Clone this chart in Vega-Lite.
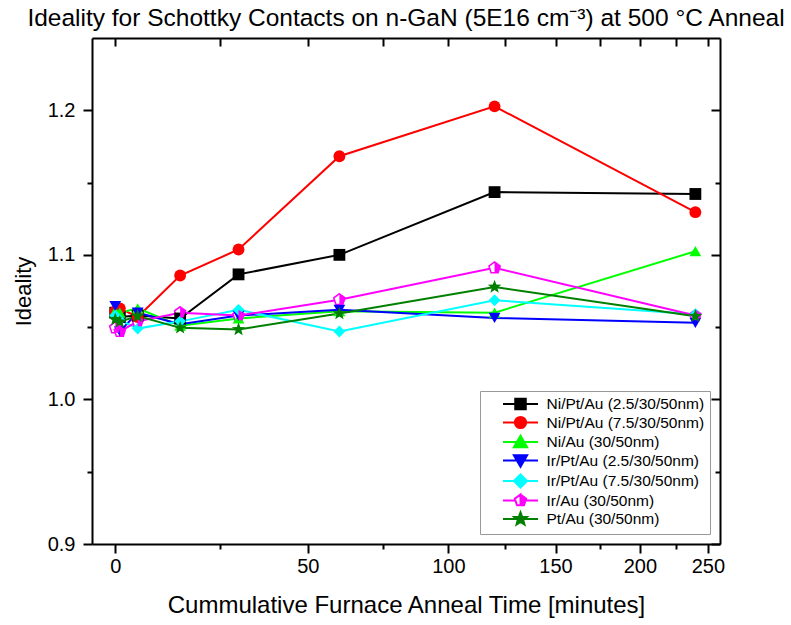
{
  "$schema": "https://vega.github.io/schema/vega-lite/v6.json",
  "width": 628,
  "height": 506,
  "autosize": {"type": "none"},
  "padding": {"left": 92, "top": 38, "right": 71, "bottom": 81},
  "background": "white",
  "config": {
    "font": "Liberation Sans",
    "view": {"stroke": null},
    "axis": {
      "grid": false,
      "domainColor": "black",
      "tickColor": "black",
      "labelColor": "black",
      "titleColor": "black",
      "domainWidth": 2,
      "tickWidth": 2,
      "labelFont": "Liberation Sans",
      "titleFont": "Liberation Sans",
      "titleFontWeight": "normal"
    },
    "legend": {
      "orient": "bottom-right",
      "offset": 10,
      "padding": 5,
      "strokeColor": "#999999",
      "fillColor": "white",
      "symbolSize": 196,
      "symbolStrokeWidth": 2,
      "symbolOffset": 27.5,
      "labelOffset": 18,
      "labelFontSize": 15.5,
      "labelFont": "Liberation Sans",
      "labelColor": "black",
      "labelLimit": 300,
      "rowPadding": -1.5
    }
  },
  "title": {
    "text": "Ideality for Schottky Contacts on n-GaN (5E16 cm⁻³) at 500 °C Anneal",
    "fontSize": 24.5,
    "fontWeight": "normal",
    "font": "Liberation Sans",
    "color": "black",
    "baseline": "alphabetic",
    "offset": 14,
    "dy": 27,
    "anchor": "middle",
    "frame": "group"
  },
  "data": {
    "values": [
      {"series": "Ni/Pt/Au (2.5/30/50nm)", "time": 0, "ideality": 1.060},
      {"series": "Ni/Pt/Au (2.5/30/50nm)", "time": 1, "ideality": 1.057},
      {"series": "Ni/Pt/Au (2.5/30/50nm)", "time": 5, "ideality": 1.058},
      {"series": "Ni/Pt/Au (2.5/30/50nm)", "time": 15, "ideality": 1.056},
      {"series": "Ni/Pt/Au (2.5/30/50nm)", "time": 30, "ideality": 1.0865},
      {"series": "Ni/Pt/Au (2.5/30/50nm)", "time": 60, "ideality": 1.100},
      {"series": "Ni/Pt/Au (2.5/30/50nm)", "time": 120, "ideality": 1.1434},
      {"series": "Ni/Pt/Au (2.5/30/50nm)", "time": 240, "ideality": 1.1421},
      {"series": "Ni/Pt/Au (7.5/30/50nm)", "time": 0, "ideality": 1.061},
      {"series": "Ni/Pt/Au (7.5/30/50nm)", "time": 1, "ideality": 1.063},
      {"series": "Ni/Pt/Au (7.5/30/50nm)", "time": 5, "ideality": 1.057},
      {"series": "Ni/Pt/Au (7.5/30/50nm)", "time": 15, "ideality": 1.0857},
      {"series": "Ni/Pt/Au (7.5/30/50nm)", "time": 30, "ideality": 1.1037},
      {"series": "Ni/Pt/Au (7.5/30/50nm)", "time": 60, "ideality": 1.1682},
      {"series": "Ni/Pt/Au (7.5/30/50nm)", "time": 120, "ideality": 1.2027},
      {"series": "Ni/Pt/Au (7.5/30/50nm)", "time": 240, "ideality": 1.1295},
      {"series": "Ni/Au (30/50nm)", "time": 0, "ideality": 1.061},
      {"series": "Ni/Au (30/50nm)", "time": 1, "ideality": 1.060},
      {"series": "Ni/Au (30/50nm)", "time": 5, "ideality": 1.063},
      {"series": "Ni/Au (30/50nm)", "time": 15, "ideality": 1.051},
      {"series": "Ni/Au (30/50nm)", "time": 30, "ideality": 1.056},
      {"series": "Ni/Au (30/50nm)", "time": 60, "ideality": 1.061},
      {"series": "Ni/Au (30/50nm)", "time": 120, "ideality": 1.060},
      {"series": "Ni/Au (30/50nm)", "time": 240, "ideality": 1.1025},
      {"series": "Ir/Pt/Au (2.5/30/50nm)", "time": 0, "ideality": 1.0645},
      {"series": "Ir/Pt/Au (2.5/30/50nm)", "time": 1, "ideality": 1.047},
      {"series": "Ir/Pt/Au (2.5/30/50nm)", "time": 5, "ideality": 1.060},
      {"series": "Ir/Pt/Au (2.5/30/50nm)", "time": 15, "ideality": 1.052},
      {"series": "Ir/Pt/Au (2.5/30/50nm)", "time": 30, "ideality": 1.058},
      {"series": "Ir/Pt/Au (2.5/30/50nm)", "time": 60, "ideality": 1.062},
      {"series": "Ir/Pt/Au (2.5/30/50nm)", "time": 120, "ideality": 1.0564},
      {"series": "Ir/Pt/Au (2.5/30/50nm)", "time": 240, "ideality": 1.053},
      {"series": "Ir/Pt/Au (7.5/30/50nm)", "time": 0, "ideality": 1.058},
      {"series": "Ir/Pt/Au (7.5/30/50nm)", "time": 1, "ideality": 1.055},
      {"series": "Ir/Pt/Au (7.5/30/50nm)", "time": 5, "ideality": 1.049},
      {"series": "Ir/Pt/Au (7.5/30/50nm)", "time": 15, "ideality": 1.054},
      {"series": "Ir/Pt/Au (7.5/30/50nm)", "time": 30, "ideality": 1.062},
      {"series": "Ir/Pt/Au (7.5/30/50nm)", "time": 60, "ideality": 1.047},
      {"series": "Ir/Pt/Au (7.5/30/50nm)", "time": 120, "ideality": 1.0686},
      {"series": "Ir/Pt/Au (7.5/30/50nm)", "time": 240, "ideality": 1.059},
      {"series": "Ir/Au (30/50nm)", "time": 0, "ideality": 1.0495},
      {"series": "Ir/Au (30/50nm)", "time": 1, "ideality": 1.047},
      {"series": "Ir/Au (30/50nm)", "time": 5, "ideality": 1.054},
      {"series": "Ir/Au (30/50nm)", "time": 15, "ideality": 1.060},
      {"series": "Ir/Au (30/50nm)", "time": 30, "ideality": 1.058},
      {"series": "Ir/Au (30/50nm)", "time": 60, "ideality": 1.069},
      {"series": "Ir/Au (30/50nm)", "time": 120, "ideality": 1.091},
      {"series": "Ir/Au (30/50nm)", "time": 240, "ideality": 1.058},
      {"series": "Pt/Au (30/50nm)", "time": 0, "ideality": 1.0553},
      {"series": "Pt/Au (30/50nm)", "time": 1, "ideality": 1.0537},
      {"series": "Pt/Au (30/50nm)", "time": 5, "ideality": 1.0576},
      {"series": "Pt/Au (30/50nm)", "time": 15, "ideality": 1.0495},
      {"series": "Pt/Au (30/50nm)", "time": 30, "ideality": 1.0484},
      {"series": "Pt/Au (30/50nm)", "time": 60, "ideality": 1.0594},
      {"series": "Pt/Au (30/50nm)", "time": 120, "ideality": 1.0778},
      {"series": "Pt/Au (30/50nm)", "time": 240, "ideality": 1.0576}
    ]
  },
  "transform": [{"calculate": "datum.time + 270", "as": "t_shift"}],
  "resolve": {"axis": {"x": "independent", "y": "independent"}},
  "layer": [
    {
      "mark": {"type": "line", "strokeWidth": 2},
      "encoding": {
        "x": {
          "field": "t_shift", "type": "quantitative",
          "scale": {"type": "pow", "exponent": -1, "domain": [265, 530], "nice": false, "zero": false},
          "axis": {
            "orient": "bottom",
            "values": [270, 320, 370, 420, 470, 520],
            "labelExpr": "datum.value - 270",
            "tickSize": 9,
            "labelFontSize": 20,
            "labelPadding": 3,
            "title": "Cummulative Furnace Anneal Time [minutes]",
            "titleFontSize": 24,
            "titlePadding": 17
          }
        },
        "y": {
          "field": "ideality", "type": "quantitative",
          "scale": {"domain": [0.9, 1.25], "nice": false, "zero": false},
          "axis": {
            "orient": "left",
            "values": [0.9, 1.0, 1.1, 1.2],
            "format": ".1f",
            "tickSize": 9,
            "labelFontSize": 20,
            "labelPadding": 8,
            "title": "Ideality",
            "titleFontSize": 22,
            "titlePadding": 12
          }
        },
        "color": {
          "field": "series", "type": "nominal",
          "scale": {
            "domain": ["Ni/Pt/Au (2.5/30/50nm)", "Ni/Pt/Au (7.5/30/50nm)", "Ni/Au (30/50nm)", "Ir/Pt/Au (2.5/30/50nm)", "Ir/Pt/Au (7.5/30/50nm)", "Ir/Au (30/50nm)", "Pt/Au (30/50nm)"],
            "range": ["#000000", "#FF0000", "#00FF00", "#0000FF", "#00FFFF", "#FF00FF", "#008000"]
          },
          "legend": {
            "title": null,
            "encode": {
              "symbols": {
                "update": {
                  "shape": {"signal": "datum.value === 'Ni/Pt/Au (2.5/30/50nm)' ? 'M-2.5,0H2.5M-0.75,-0.75H0.75V0.75H-0.75Z' : datum.value === 'Ni/Pt/Au (7.5/30/50nm)' ? 'M-2.5,0H2.5M-0.8,0A0.8,0.8,0,1,1,0.8,0A0.8,0.8,0,1,1,-0.8,0Z' : datum.value === 'Ni/Au (30/50nm)' ? 'M-2.5,0H2.5M0,-0.9L0.95,0.75H-0.95Z' : datum.value === 'Ir/Pt/Au (2.5/30/50nm)' ? 'M-2.5,0H2.5M0,0.9L0.95,-0.75H-0.95Z' : datum.value === 'Ir/Pt/Au (7.5/30/50nm)' ? 'M-2.5,0H2.5M0,-0.95L0.95,0L0,0.95L-0.95,0Z' : datum.value === 'Ir/Au (30/50nm)' ? 'M-2.5,0H-0.72M0.72,0H2.5M0,-0.85L0.808,-0.263L0.5,0.688L-0.5,0.688L-0.808,-0.263ZM0,-0.85L-0.808,-0.263L-0.5,0.688L0,0.688Z' : 'M-2.5,0H2.5M0,-0.95L0.235,-0.323L0.903,-0.294L0.379,0.124L0.559,0.769L0,0.399L-0.559,0.769L-0.379,0.124L-0.903,-0.294L-0.235,-0.323Z'"},
                  "size": {"value": 196},
                  "fill": {"signal": "scale('color', datum.value)"},
                  "stroke": {"signal": "scale('color', datum.value)"},
                  "strokeWidth": {"value": 2},
                  "opacity": {"value": 1},
                  "fillOpacity": {"value": 1},
                  "strokeOpacity": {"value": 1}
                }
              }
            }
          }
        }
      }
    },
    {
      "transform": [{"filter": "datum.series === 'Ir/Au (30/50nm)'"}],
      "mark": {
        "type": "point", "filled": true, "opacity": 1, "size": 140,
        "fill": "white", "stroke": "#FF00FF", "strokeWidth": 1.5,
        "shape": "M0,-1L0.951,-0.309L0.588,0.809L-0.588,0.809L-0.951,-0.309Z"
      },
      "encoding": {
        "x": {
          "field": "t_shift", "type": "quantitative",
          "axis": {"orient": "bottom", "values": [295, 345, 395, 445, 495], "tickSize": 5, "labels": false, "domain": false, "title": null}
        },
        "y": {
          "field": "ideality", "type": "quantitative",
          "axis": {"orient": "left", "values": [0.95, 1.05, 1.15], "tickSize": 5, "labels": false, "domain": false, "title": null}
        }
      }
    },
    {
      "mark": {"type": "point", "filled": true, "opacity": 1, "size": 140},
      "encoding": {
        "x": {
          "field": "t_shift", "type": "quantitative",
          "axis": {"orient": "top", "values": [270, 295, 320, 345, 370, 395, 420, 445, 470, 495, 520], "tickSize": -8, "labels": false, "title": null, "minExtent": 0, "maxExtent": 0}
        },
        "y": {
          "field": "ideality", "type": "quantitative",
          "axis": {"orient": "right", "values": [0.9, 1.0, 1.1, 1.2], "tickSize": -9, "labels": false, "title": null}
        },
        "color": {"field": "series", "type": "nominal"},
        "shape": {
          "condition": [
            {"test": "datum.series === 'Ni/Pt/Au (2.5/30/50nm)'", "value": "square"},
            {"test": "datum.series === 'Ni/Pt/Au (7.5/30/50nm)'", "value": "circle"},
            {"test": "datum.series === 'Ni/Au (30/50nm)'", "value": "triangle-up"},
            {"test": "datum.series === 'Ir/Pt/Au (2.5/30/50nm)'", "value": "triangle-down"},
            {"test": "datum.series === 'Ir/Pt/Au (7.5/30/50nm)'", "value": "diamond"},
            {"test": "datum.series === 'Ir/Au (30/50nm)'", "value": "M0,-1L0.951,-0.309L0.588,0.809L-0.588,0.809L-0.951,-0.309ZM0,-1L-0.951,-0.309L-0.588,0.809L0,0.809Z"}
          ],
          "value": "M0,-1.2L0.296,-0.408L1.141,-0.371L0.479,0.156L0.706,0.971L0,0.504L-0.706,0.971L-0.479,0.156L-1.141,-0.371L-0.296,-0.408Z"
        }
      }
    },
    {
      "transform": [{"filter": "datum.time === 0"}],
      "mark": {"type": "point", "opacity": 0},
      "encoding": {
        "x": {"field": "t_shift", "type": "quantitative", "axis": null},
        "y": {
          "field": "ideality", "type": "quantitative",
          "axis": {"orient": "right", "values": [0.95, 1.05, 1.15], "tickSize": -5, "labels": false, "domain": false, "title": null}
        }
      }
    }
  ]
}
